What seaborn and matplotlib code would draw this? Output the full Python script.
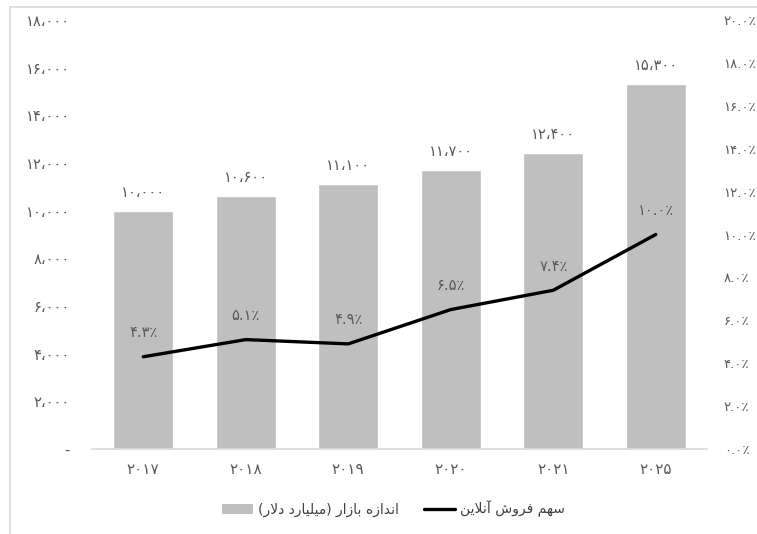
import numpy as np
import pandas as pd
import matplotlib
matplotlib.use("Agg")
import matplotlib.pyplot as plt
from matplotlib.lines import Line2D
from matplotlib.patches import Patch
import seaborn as sns

# ---------------- data ----------------
years = ["۲۰۱۷", "۲۰۱۸", "۲۰۱۹", "۲۰۲۰", "۲۰۲۱", "۲۰۲۵"]
market_size = [10000, 10600, 11100, 11700, 12400, 15300]
market_labels = ["۱۰،۰۰۰", "۱۰،۶۰۰", "۱۱،۱۰۰", "۱۱،۷۰۰", "۱۲،۴۰۰", "۱۵،۳۰۰"]
online_share = [4.3, 5.1, 4.9, 6.5, 7.4, 10.0]
share_labels = ["۴.۳٪", "۵.۱٪", "۴.۹٪", "۶.۵٪", "۷.۴٪", "۱۰.۰٪"]
left_ticks = [0, 2000, 4000, 6000, 8000, 10000, 12000, 14000, 16000, 18000]
left_tick_labels = ["-", "۲،۰۰۰", "۴،۰۰۰", "۶،۰۰۰", "۸،۰۰۰", "۱۰،۰۰۰",
                    "۱۲،۰۰۰", "۱۴،۰۰۰", "۱۶،۰۰۰", "۱۸،۰۰۰"]
right_ticks = [0, 2, 4, 6, 8, 10, 12, 14, 16, 18, 20]
right_tick_labels = ["۰.۰٪", "۲.۰٪", "۴.۰٪", "۶.۰٪", "۸.۰٪", "۱۰.۰٪",
                     "۱۲.۰٪", "۱۴.۰٪", "۱۶.۰٪", "۱۸.۰٪", "۲۰.۰٪"]
bar_series_name = "اندازه بازار (میلیارد دلار)"
line_series_name = "سهم فروش آنلاین"

# ---------------- simple Persian shaping (matplotlib has no bidi) ----------------
FORMS = {  # isolated, final, initial, medial
    "ا": ("\uFE8D", "\uFE8E", None, None),
    "آ": ("\uFE81", "\uFE82", None, None),
    "د": ("\uFEA9", "\uFEAA", None, None),
    "ر": ("\uFEAD", "\uFEAE", None, None),
    "ز": ("\uFEAF", "\uFEB0", None, None),
    "و": ("\uFEED", "\uFEEE", None, None),
    "ب": ("\uFE8F", "\uFE90", "\uFE91", "\uFE92"),
    "س": ("\uFEB1", "\uFEB2", "\uFEB3", "\uFEB4"),
    "ش": ("\uFEB5", "\uFEB6", "\uFEB7", "\uFEB8"),
    "ف": ("\uFED1", "\uFED2", "\uFED3", "\uFED4"),
    "ل": ("\uFEDD", "\uFEDE", "\uFEDF", "\uFEE0"),
    "م": ("\uFEE1", "\uFEE2", "\uFEE3", "\uFEE4"),
    "ن": ("\uFEE5", "\uFEE6", "\uFEE7", "\uFEE8"),
    "ه": ("\uFEE9", "\uFEEA", "\uFEEB", "\uFEEC"),
    "ی": ("\uFBFC", "\uFBFD", "\uFEF3", "\uFEF4"),
}
LAMALEF = {"ا": ("\uFEFB", "\uFEFC"), "آ": ("\uFEF5", "\uFEF6")}


def dual(c):
    return c in FORMS and FORMS[c][2] is not None


def shape(text):
    chars = list(text)
    out = []
    i = 0
    n = len(chars)
    while i < n:
        c = chars[i]
        if c not in FORMS:
            out.append(c)
            i += 1
            continue
        prev = chars[i - 1] if i > 0 else None
        joins_prev = prev is not None and dual(prev)
        if c == "ل" and i + 1 < n and chars[i + 1] in LAMALEF:
            iso, fin = LAMALEF[chars[i + 1]]
            out.append(fin if joins_prev else iso)
            i += 2
            continue
        nxt = chars[i + 1] if i + 1 < n else None
        joins_next = dual(c) and nxt is not None and nxt in FORMS
        iso, fin, ini, med = FORMS[c]
        if joins_prev and joins_next:
            out.append(med)
        elif joins_prev:
            out.append(fin)
        elif joins_next:
            out.append(ini)
        else:
            out.append(iso)
        i += 1
    vis = "".join(reversed(out))
    vis = vis.translate(str.maketrans({"(": ")", ")": "("}))
    return vis


# ---------------- figure ----------------
sns.set_theme(style="white")
plt.rcParams["font.family"] = ["DejaVu Sans"]

W, H = 757, 534
fig = plt.figure(figsize=(W / 100, H / 100), dpi=100)
left, right, bottom, top = 92, 707, 449, 20
ax = fig.add_axes([left / W, 1 - bottom / H, (right - left) / W, (bottom - top) / H])

df = pd.DataFrame({"year": years, "size": market_size, "share": online_share})

tick_color = "#595959"
sns.barplot(data=df, x="year", y="size", color="#bfbfbf", saturation=1,
            width=0.59, ax=ax, order=years)
ax.set_ylim(0, 18000)
ax.set_xlim(-0.5, len(years) - 0.5)
ax.set_yticks(left_ticks)
ax.set_yticklabels(left_tick_labels, fontsize=10.5, color=tick_color)
ax.tick_params(axis="y", length=0, pad=16)
ax.tick_params(axis="x", length=0, pad=9, labelsize=11, labelcolor=tick_color)
ax.set_xlabel("")
ax.set_ylabel("")
for s in ["top", "right", "left"]:
    ax.spines[s].set_visible(False)
ax.spines["bottom"].set_color("#d9d9d9")
ax.spines["bottom"].set_linewidth(1.2)

for i, (v, lab) in enumerate(zip(market_size, market_labels)):
    ax.annotate(lab, (i, v), xytext=(0, 8), textcoords="offset points",
                ha="center", va="bottom", fontsize=10.5, color=tick_color)

ax2 = ax.twinx()
xpos = np.arange(len(years))
sns.lineplot(x=xpos, y=online_share, color="black", linewidth=2.4, ax=ax2,
             legend=False)
ax2.set_ylim(0, 20)
ax2.set_xlim(-0.5, len(years) - 0.5)
ax2.set_yticks(right_ticks)
ax2.set_yticklabels(right_tick_labels, fontsize=9.5, color=tick_color)
ax2.tick_params(axis="y", length=0, pad=12)
ax2.set_ylabel("")
for s in ["top", "right", "left", "bottom"]:
    ax2.spines[s].set_visible(False)

for i, (v, lab) in enumerate(zip(online_share, share_labels)):
    ax2.annotate(lab, (i, v), xytext=(0, 12), textcoords="offset points",
                 ha="center", va="bottom", fontsize=10.5, color=tick_color)

handles = [Patch(facecolor="#bfbfbf", edgecolor="none"),
           Line2D([0], [0], color="black", linewidth=2.4)]
labels = [shape(bar_series_name), shape(line_series_name)]
fig.legend(handles, labels, loc="center",
           bbox_to_anchor=(((left + right) / 2 - 6) / W, 1 - 509 / H),
           ncol=2, frameon=False, fontsize=10, handlelength=2.2,
           columnspacing=1.8, handletextpad=0.4, labelcolor="#404040")

# outer frame (left and top edges)
fig.add_artist(Line2D([10 / W, 10 / W], [0, 1 - 7 / H], transform=fig.transFigure,
                      color="#d9d9d9", linewidth=1.2))
fig.add_artist(Line2D([10 / W, 1], [1 - 7 / H, 1 - 7 / H], transform=fig.transFigure,
                      color="#d9d9d9", linewidth=1.2))

fig.savefig("out.png", dpi=100, facecolor="white")
